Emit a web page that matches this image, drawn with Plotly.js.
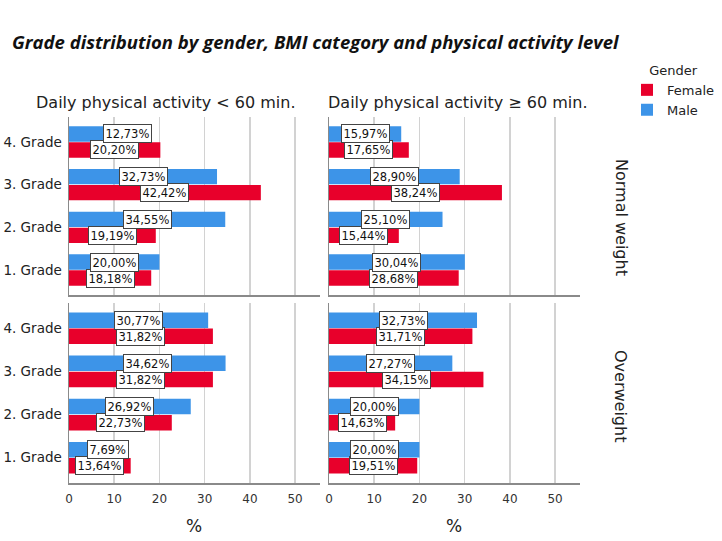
<!DOCTYPE html>
<html>
<head>
<meta charset="utf-8">
<script src="https://cdn.plot.ly/plotly-3.0.1.min.js"></script>
<style>
html,body{margin:0;padding:0;background:#fff;}
#chart{width:722px;height:541px;}
</style>
</head>
<body>
<div id="chart"></div>
<script>
// ---- data ----
const grades = ["1. Grade", "2. Grade", "3. Grade", "4. Grade"];
const activityLevels = ["Daily physical activity < 60 min.", "Daily physical activity \u2265 60 min."];
const bmiCategories = ["Normal weight", "Overweight"];
const genders = ["Female", "Male"];
const xTicks = [0, 10, 20, 30, 40, 50];

// values by grade (1..4), in percent
const normalLowFemale  = [18.18, 19.19, 42.42, 20.20];
const normalLowMale    = [20.00, 34.55, 32.73, 12.73];
const normalHighFemale = [28.68, 15.44, 38.24, 17.65];
const normalHighMale   = [30.04, 25.10, 28.90, 15.97];
const overLowFemale    = [13.64, 22.73, 31.82, 31.82];
const overLowMale      = [7.69, 26.92, 34.62, 30.77];
const overHighFemale   = [19.51, 14.63, 34.15, 31.71];
const overHighMale     = [20.00, 20.00, 27.27, 32.73];

// ---- styling ----
const colors = {Female: "#E8002B", Male: "#3D94E8"};
const FONT = "DejaVu Sans, Verdana, sans-serif";
const TFONT = "Open Sans, sans-serif";
// label pixel nudges (collision avoidance in the original)
const nudges = {"1_Male_3": 30, "3_Male_0": 22};

const panels = [
  {ax: "", female: normalLowFemale, male: normalLowMale},
  {ax: "2", female: normalHighFemale, male: normalHighMale},
  {ax: "3", female: overLowFemale, male: overLowMale},
  {ax: "4", female: overHighFemale, male: overHighMale}
];

const W = 722, H = 541;
const colX = [[69, 320], [329, 580]];
const rowY = [[117, 295], [303, 483]];
const fx = p => p / W;
const fy = p => 1 - p / H;

const traces = [];
const annotations = [];
panels.forEach((p, i) => {
  const series = {Female: p.female, Male: p.male};
  genders.forEach(g => {
    traces.push({
      type: "bar", orientation: "h",
      x: series[g], y: grades,
      name: g, legendgroup: g, showlegend: i === 0,
      marker: {color: colors[g], line: {width: 0}},
      xaxis: "x" + p.ax, yaxis: "y" + p.ax,
      hoverinfo: "x+y+name"
    });
    series[g].forEach((v, k) => {
      annotations.push({
        xref: "x" + p.ax, yref: "y" + p.ax,
        x: v / 2, y: grades[k],
        xshift: nudges[(i + 1) + "_" + g + "_" + k] || 0,
        yshift: g === "Male" ? 8 : -8,
        text: v.toFixed(2).replace(".", ",") + "%",
        showarrow: false,
        font: {family: FONT, size: 11.5, color: "#111"},
        bgcolor: "#fff", bordercolor: "#444", borderwidth: 1, borderpad: 1.5
      });
    });
  });
});

// column titles
annotations.push({xref: "paper", yref: "paper", x: fx(166), y: fy(103), text: activityLevels[0],
  showarrow: false, font: {family: FONT, size: 16, color: "#222"}, xanchor: "center", yanchor: "middle"});
annotations.push({xref: "paper", yref: "paper", x: fx(458), y: fy(103), text: activityLevels[1],
  showarrow: false, font: {family: FONT, size: 16, color: "#222"}, xanchor: "center", yanchor: "middle"});
// row titles
annotations.push({xref: "paper", yref: "paper", x: fx(621), y: fy(217), text: bmiCategories[0], textangle: 90,
  showarrow: false, font: {family: FONT, size: 16, color: "#222"}, xanchor: "center", yanchor: "middle"});
annotations.push({xref: "paper", yref: "paper", x: fx(621), y: fy(396), text: bmiCategories[1], textangle: 90,
  showarrow: false, font: {family: FONT, size: 16, color: "#222"}, xanchor: "center", yanchor: "middle"});
// x axis titles
annotations.push({xref: "paper", yref: "paper", x: fx(194), y: fy(526), text: "%",
  showarrow: false, font: {family: FONT, size: 17, color: "#222"}, xanchor: "center", yanchor: "middle"});
annotations.push({xref: "paper", yref: "paper", x: fx(454), y: fy(526), text: "%",
  showarrow: false, font: {family: FONT, size: 17, color: "#222"}, xanchor: "center", yanchor: "middle"});

function xAxis(col, row) {
  return {
    domain: [fx(colX[col][0]), fx(colX[col][1])],
    anchor: "y" + (row * 2 + col === 0 ? "" : row * 2 + col + 1),
    range: [0, 55.5], tickvals: xTicks, ticktext: xTicks.map(String),
    showticklabels: row === 1,
    ticks: "outside", ticklen: 4, tickcolor: "rgba(0,0,0,0)",
    tickfont: {family: FONT, size: 12, color: "#333"},
    showgrid: true, gridcolor: "#d2d2d2", gridwidth: 1.5,
    zeroline: false, showline: true, linecolor: "#8a8a8a", linewidth: 1.5,
    fixedrange: true
  };
}
function yAxis(col, row) {
  return {
    domain: [fy(rowY[row][1]), fy(rowY[row][0])],
    anchor: "x" + (row * 2 + col === 0 ? "" : row * 2 + col + 1),
    type: "category", categoryorder: "array", categoryarray: grades,
    range: [-0.585, 3.585],
    showticklabels: col === 0,
    ticks: "outside", ticklen: 3, tickcolor: "rgba(0,0,0,0)",
    tickfont: {family: FONT, size: 13.5, color: "#222"},
    showgrid: false, zeroline: false,
    showline: true, linecolor: "#8a8a8a", linewidth: 1.5,
    fixedrange: true
  };
}

const layout = {
  width: W, height: H,
  margin: {l: 0, r: 0, t: 0, b: 0},
  paper_bgcolor: "#fff", plot_bgcolor: "#fff",
  barmode: "group", bargap: 0.25, bargroupgap: 0.04,
  separators: ",.",
  title: {
    text: "<b><i>Grade distribution by gender, BMI category and physical activity level</i></b>",
    x: fx(12), xanchor: "left", y: fy(43), yanchor: "middle",
    font: {family: TFONT, size: 18.5, color: "#111"}
  },
  showlegend: true,
  legend: {
    x: fx(627), y: fy(58), xanchor: "left", yanchor: "top",
    traceorder: "normal",
    title: {text: "Gender", side: "top center", font: {family: FONT, size: 13, color: "#222"}},
    font: {family: FONT, size: 13, color: "#222"},
    itemwidth: 30, tracegroupgap: 0, bgcolor: "rgba(0,0,0,0)"
  },
  xaxis: xAxis(0, 0), yaxis: yAxis(0, 0),
  xaxis2: xAxis(1, 0), yaxis2: yAxis(1, 0),
  xaxis3: xAxis(0, 1), yaxis3: yAxis(0, 1),
  xaxis4: xAxis(1, 1), yaxis4: yAxis(1, 1),
  annotations: annotations
};

Plotly.newPlot("chart", traces, layout, {displayModeBar: false, staticPlot: true});
</script>
</body>
</html>
